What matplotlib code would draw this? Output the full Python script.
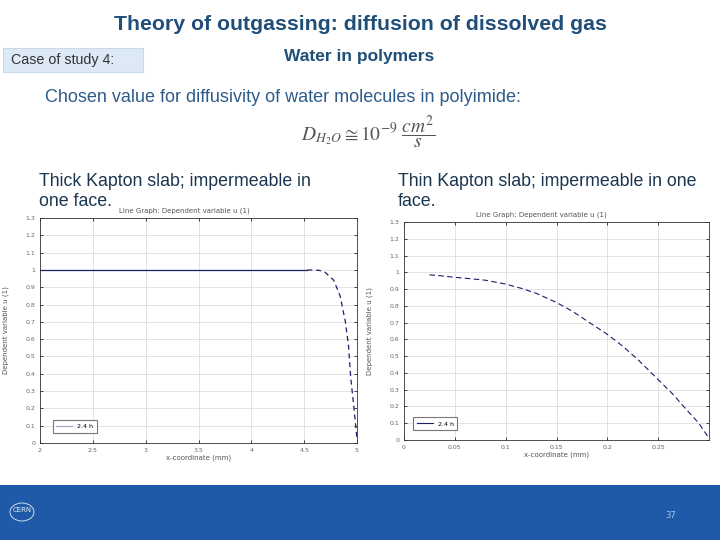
import matplotlib.pyplot as plt
import matplotlib.patches as patches
import numpy as np

# thick slab (x in mm, u dimensionless)
thick_flat_x = [2.0, 4.53]
thick_flat_u = [1.0, 1.0]
thick_tail_x = [4.53, 4.64, 4.70, 4.78, 4.84, 4.89, 4.92, 4.94, 4.97, 5.0]
thick_tail_u = [1.0, 0.998, 0.985, 0.94, 0.85, 0.70, 0.56, 0.38, 0.21, 0.02]

# thin slab
thin_x = [0.025, 0.035, 0.05, 0.065, 0.08, 0.1, 0.115, 0.13, 0.15, 0.165, 0.18,
          0.2, 0.215, 0.23, 0.25, 0.265, 0.275, 0.29, 0.3]
thin_u = [0.985, 0.98, 0.97, 0.962, 0.953, 0.93, 0.905, 0.875, 0.82, 0.77, 0.71,
          0.63, 0.56, 0.48, 0.36, 0.27, 0.20, 0.10, 0.01]

yticks = [0, 0.1, 0.2, 0.3, 0.4, 0.5, 0.6, 0.7, 0.8, 0.9, 1, 1.1, 1.2, 1.3]
thick_xticks = [2, 2.5, 3, 3.5, 4, 4.5, 5]
thin_xticks = [0, 0.05, 0.1, 0.15, 0.2, 0.25]

navy = '#1b1f6b'
title_blue = '#1f4e79'

fig = plt.figure(figsize=(7.2, 5.4), dpi=100)
fig.patch.set_facecolor('white')

def px(x, y):
    return x / 720, 1 - y / 540

# slide header
fig.text(*px(360, 24), 'Theory of outgassing: diffusion of dissolved gas', ha='center', va='center',
         fontsize=15.3, fontweight='bold', color=title_blue, family='Liberation Sans')
fig.patches.append(patches.Rectangle(px(3, 72), 140 / 720, 24 / 540, transform=fig.transFigure,
                                     facecolor='#dde9f7', edgecolor='#c9d9ec', lw=0.8))
fig.text(*px(11, 60), 'Case of study 4:', ha='left', va='center', fontsize=10.3, color='#333333',
         family='Liberation Sans')
fig.text(*px(359, 57), 'Water in polymers', ha='center', va='center', fontsize=12.5, fontweight='bold',
         color=title_blue, family='Liberation Sans')
fig.text(*px(45, 98), 'Chosen value for diffusivity of water molecules in polyimide:', ha='left', va='center',
         fontsize=13, color='#2e5c8a', family='Liberation Sans')
fig.text(*px(368, 132), r'$D_{H_2O} \cong 10^{-9}\ \dfrac{cm^2}{s}$', ha='center', va='center',
         fontsize=14, color='#555555', math_fontfamily='stix')
sub_kw = dict(ha='left', va='center', fontsize=12.8, color='#1a3550', family='Liberation Sans')
fig.text(*px(39, 182), 'Thick Kapton slab; impermeable in', **sub_kw)
fig.text(*px(39, 202), 'one face.', **sub_kw)
fig.text(*px(398, 182), 'Thin Kapton slab; impermeable in one', **sub_kw)
fig.text(*px(398, 202), 'face.', **sub_kw)

# footer bar
fig.patches.append(patches.Rectangle((0, 0), 1, 55 / 540, transform=fig.transFigure,
                                     facecolor='#1f5aa8', edgecolor='none'))
fig.text(*px(671, 515), '37', ha='center', va='center', fontsize=6, color='#aac4e6')
fig.patches.append(patches.Circle(px(22, 512), 12 / 720, transform=fig.transFigure,
                                  facecolor='none', edgecolor='#e8eef8', lw=0.6))
fig.text(*px(22, 510), 'CERN', ha='center', va='center', fontsize=5, color='#e8eef8')


def style_axes(ax, xticks, xlim, title):
    ax.set_xlim(*xlim)
    ax.set_ylim(0, 1.3)
    ax.set_xticks(xticks)
    ax.set_xticklabels([('%g' % t) for t in xticks])
    ax.set_yticks(yticks)
    ax.set_yticklabels([('%g' % t) for t in yticks])
    ax.grid(True, color='#dddddd', lw=0.6)
    ax.tick_params(labelsize=4.5, labelcolor='#666666', length=2, width=0.5,
                   direction='in', top=True, right=True)
    for s in ax.spines.values():
        s.set_linewidth(0.6)
        s.set_color('#333333')
    ax.set_title(title, fontsize=5, color='#555555', pad=4)
    ax.set_xlabel('x-coordinate (mm)', fontsize=5, color='#555555', labelpad=1)
    ax.set_ylabel('Dependent variable u (1)', fontsize=5, color='#555555', labelpad=12)


ax1 = fig.add_axes([40 / 720, 1 - 443 / 540, 317 / 720, 225 / 540])
ax1.plot(thick_flat_x, thick_flat_u, color=navy, lw=0.9, label='2.4 h')
ax1.plot(thick_tail_x, thick_tail_u, color=navy, lw=0.9, ls=(0, (4, 3)))
style_axes(ax1, thick_xticks, (2, 5), 'Line Graph: Dependent variable u (1)')
ax1.title.set_position((0.455, 1))
leg = ax1.legend(loc='lower left', fontsize=4.5, frameon=True, fancybox=False, handlelength=2.5,
                 borderpad=0.6, bbox_to_anchor=(0.03, 0.03))
leg.get_frame().set_edgecolor('#555555')
leg.get_frame().set_linewidth(0.8)
leg.get_lines()[0].set_color('#a8a8c8')

ax2 = fig.add_axes([404 / 720, 1 - 440 / 540, 305 / 720, 218 / 540])
ax2.plot(thin_x, thin_u, color=navy, lw=0.8, ls=(0, (5, 3)), label='2.4 h')
style_axes(ax2, thin_xticks, (0, 0.3), 'Line Graph: Dependent variable u (1)')
ax2.title.set_position((0.45, 1))
leg2 = ax2.legend(loc='lower left', fontsize=4.5, frameon=True, fancybox=False, handlelength=2.5,
                  borderpad=0.6, bbox_to_anchor=(0.02, 0.03))
leg2.get_frame().set_edgecolor('#555555')
leg2.get_frame().set_linewidth(0.8)
leg2.get_lines()[0].set_linestyle('-')

fig.savefig('out.png', dpi=100)
